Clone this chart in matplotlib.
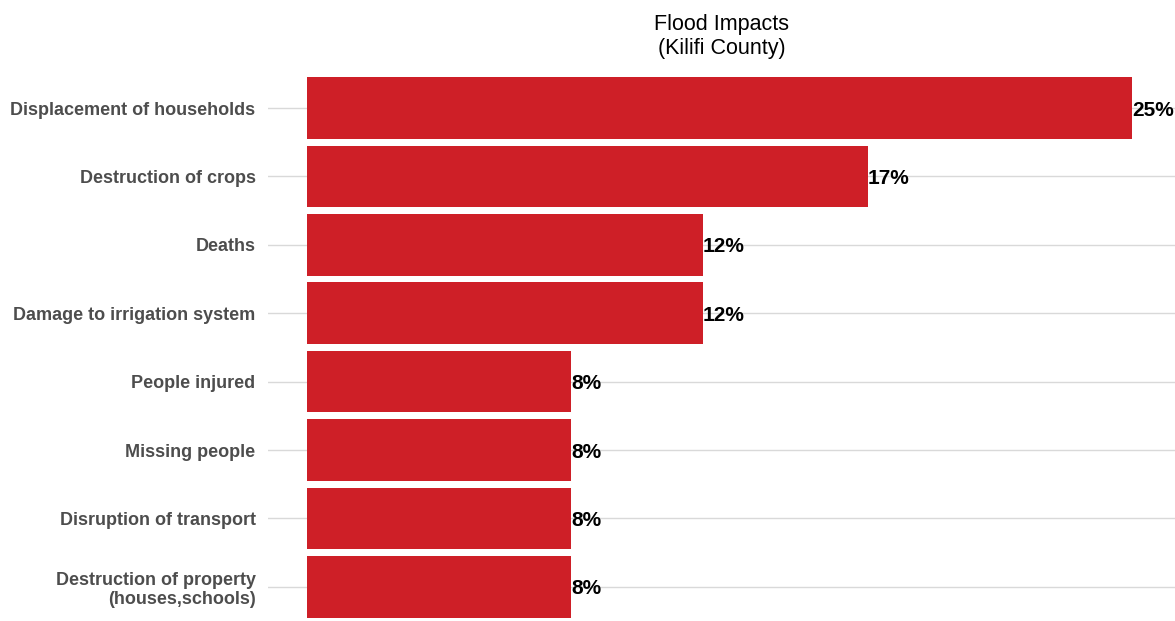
import matplotlib.pyplot as plt
import matplotlib as mpl

mpl.rcParams['font.family'] = ['Liberation Sans', 'DejaVu Sans']

impacts = ['Displacement of households', 'Destruction of crops', 'Deaths',
           'Damage to irrigation system', 'People injured', 'Missing people',
           'Disruption of transport', 'Destruction of property\n(houses,schools)']
shares = [25, 17, 12, 12, 8, 8, 8, 8]
pct_labels = ['25%', '17%', '12%', '12%', '8%', '8%', '8%', '8%']

fig = plt.figure(figsize=(11.75, 6.21), dpi=100)
ax = fig.add_axes([268 / 1175, 0, 907 / 1175, 554 / 621])

ypos = list(range(len(impacts) - 1, -1, -1))
ax.barh(ypos, shares, height=0.9, color='#CE1F27', zorder=2)
for y, v, lab in zip(ypos, shares, pct_labels):
    ax.text(v, y, lab, ha='left', va='center_baseline', fontsize=15,
            fontweight='bold', color='black', zorder=3)

ax.set_yticks(ypos)
ax.set_yticklabels(impacts, fontsize=13, fontweight='bold', color='#4D4D4D',
                   ha='right', multialignment='right', linespacing=1.15)
ax.tick_params(axis='y', length=0, pad=9)
ax.set_xticks([])
ax.set_xlim(-1.18, 26.3)
ax.set_ylim(-0.5, 7.6)
ax.grid(axis='y', color='#D9D9D9', linewidth=1, zorder=0)
for s in ax.spines.values():
    s.set_visible(False)

fig.text((268 + 1175) / 2 / 1175, 1 - 36.5 / 621, 'Flood Impacts\n(Kilifi County)',
         ha='center', va='center', fontsize=15.5, color='black', linespacing=1.15)

plt.savefig('out.png', dpi=100)
